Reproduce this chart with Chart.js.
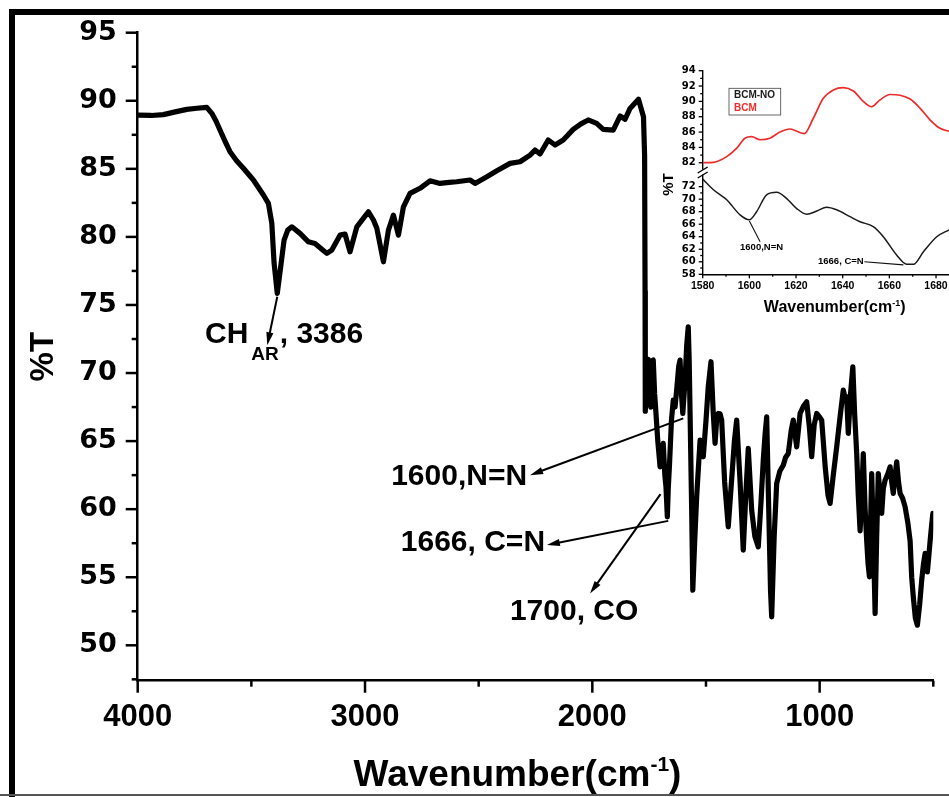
<!DOCTYPE html>
<html>
<head>
<meta charset="utf-8">
<title>FTIR spectrum %T</title>
<script src="https://cdn.jsdelivr.net/npm/chart.js@4.4.0/dist/chart.umd.min.js"></script>
<style>
  html, body { margin: 0; padding: 0; background: #fff; overflow: hidden; }
  body { width: 949px; height: 797px; position: relative; }
  #frame { position: absolute; left: 9px; top: 9px; right: -20px; bottom: 0; border-top: 6px solid #000; border-left: 6px solid #000; }
  #baseLine { position: absolute; left: 0; right: 0; top: 794px; height: 2px; background: #555; }
  #mainWrap { position: absolute; left: 0; top: 0; width: 949px; height: 797px; }
  #insetWrap { position: absolute; left: 640px; top: 50px; width: 360px; height: 270px; }
</style>
</head>
<body>
<div id="frame"></div>
<div id="baseLine"></div>
<div id="mainWrap"><canvas id="mainChart"></canvas></div>
<div id="insetWrap"><canvas id="insetChart"></canvas></div>
<script>
// full spectrum, cm-1 vs %T
const wavenumber = [
  3997, 3940, 3887, 3830, 3784, 3740, 3696, 3674, 3655, 3638, 3615, 3594, 3565, 3535, 3491, 3447, 3425, 3410, 3400, 3386,
  3371, 3356, 3340, 3322, 3286, 3249, 3220, 3190, 3168, 3146, 3110, 3088, 3066, 3036, 3010, 2985, 2963, 2948, 2919, 2897,
  2875, 2853, 2831, 2802, 2758, 2714, 2670, 2630, 2597, 2538, 2516, 2464, 2420, 2362, 2318, 2274, 2252, 2230, 2194, 2164,
  2128, 2084, 2050, 2018, 1981, 1952, 1908, 1878, 1856, 1834, 1797, 1775, 1770, 1768, 1767, 1760, 1754, 1748, 1743, 1737,
  1732, 1726, 1720, 1712, 1702, 1695, 1688, 1681, 1676, 1670, 1666, 1661, 1652, 1644, 1636, 1629, 1620, 1614, 1608, 1602,
  1592, 1585, 1578, 1574, 1570, 1563, 1558, 1550, 1541, 1526, 1512, 1500, 1490, 1478, 1468, 1460, 1452, 1446, 1438, 1431,
  1418, 1402, 1390, 1375, 1365, 1350, 1336, 1325, 1314, 1299, 1285, 1270, 1258, 1248, 1240, 1233, 1224, 1216, 1211, 1200,
  1189, 1175, 1160, 1150, 1138, 1125, 1116, 1101, 1086, 1070, 1057, 1045, 1035, 1024, 1013, 1002, 991, 975, 963, 954,
  940, 925, 910, 896, 885, 881, 874, 864, 854, 846, 837, 830, 822, 815, 808, 800, 793, 787, 781, 776,
  771, 763, 756, 749, 742, 734, 727, 720, 712, 700, 690, 683, 676, 668, 661, 653, 646, 635, 624, 612,
  602, 595, 588, 579, 570, 560, 551, 543, 536, 526, 520, 514, 508, 502
];
const transmittance = [
  88.95, 88.92, 88.98, 89.2, 89.37, 89.45, 89.52, 89.08, 88.5, 87.85, 87.0, 86.26, 85.6, 85.04, 84.18, 83.08, 82.46, 81.0, 78.08, 75.85,
  77.8, 79.77, 80.5, 80.74, 80.26, 79.64, 79.52, 79.1, 78.79, 79.03, 80.13, 80.21, 78.91, 80.74, 81.3, 81.85, 81.24, 80.63, 78.17, 80.5,
  81.6, 80.13, 82.21, 83.2, 83.57, 84.12, 83.93, 84.0, 84.05, 84.18, 83.93, 84.42, 84.86, 85.4, 85.52, 86.01, 86.38, 86.09, 87.12, 86.75,
  87.12, 87.9, 88.3, 88.59, 88.34, 87.9, 87.85, 88.88, 88.64, 89.44, 90.11, 88.83, 86.0, 76.0, 67.2, 70.9, 71.0, 68.0, 67.5, 70.9,
  70.95, 68.5, 67.03, 65.0, 63.11, 64.2, 64.83, 62.5, 61.64, 59.44, 61.5, 63.11, 66.5, 68.01, 67.5, 68.75, 70.5, 70.95, 68.5, 67.03,
  69.46, 72.0, 73.4, 71.0, 67.03, 60.0, 54.05, 57.5, 60.9, 65.07, 63.85, 66.5, 69.0, 70.83, 67.03, 64.83, 66.8, 67.03, 67.0, 66.54,
  62.0, 58.7, 61.5, 65.0, 66.54, 62.0, 56.99, 61.0, 64.46, 59.93, 58.0, 57.23, 60.5, 63.6, 65.5, 66.78, 60.0, 54.0, 52.09, 58.0,
  61.89, 62.8, 63.23, 63.8, 64.09, 65.8, 66.54, 64.58, 67.03, 67.6, 67.89, 66.0, 63.85, 66.2, 67.03, 66.8, 66.54, 63.0, 61.0, 60.42,
  62.5, 64.58, 66.8, 68.75, 68.0, 68.25, 65.56, 68.5, 70.46, 67.0, 64.09, 61.0, 58.41, 61.0, 64.09, 60.0, 57.67, 56.0, 55.03, 59.0,
  62.62, 57.5, 52.34, 58.0, 62.62, 61.0, 59.69, 61.5, 62.13, 62.6, 63.11, 62.0, 61.16, 62.5, 63.48, 62.0, 61.16, 60.8, 60.17, 59.0,
  57.67, 55.0, 53.56, 52.0, 51.48, 53.0, 54.79, 56.0, 56.75, 55.39, 56.5, 57.67, 58.7, 59.69
];

// zoomed 1580-1700 region, two samples
const bcmWavenumber = [1580, 1584.6, 1590.3, 1594.6, 1598.1, 1601, 1604.6, 1608.8, 1613.1, 1617.4, 1620.3, 1623.5, 1627.4, 1631.7,
  1636, 1640.3, 1644.6, 1648.8, 1652.4, 1656, 1660.3, 1664.6, 1668.9, 1673.2, 1677.4, 1681.7, 1685.6];
const bcmT = [82.0, 82.06, 82.8, 83.9, 85.2, 85.4, 85.0, 85.2, 86.0, 86.4, 86.1, 85.8, 87.8, 90.4,
  91.5, 91.8, 91.35, 90.0, 89.3, 90.2, 90.9, 90.8, 90.3, 89.1, 87.6, 86.5, 86.1];
const bcmNoWavenumber = [1580, 1584.6, 1590.3, 1596, 1600, 1603.1, 1607.4, 1611.7, 1616, 1620.3, 1624.6, 1628.9, 1633.1, 1637.4,
  1643.1, 1647.4, 1653.1, 1657.4, 1663.1, 1667.4, 1670.3, 1674.6, 1680.3, 1685.6];
const bcmNoT = [73.2, 71.5, 69.9, 67.5, 66.7, 68.0, 70.7, 71.1, 70.1, 68.5, 67.6, 68.1, 68.7, 68.3,
  67.2, 66.4, 65.6, 64.0, 61.1, 59.6, 59.6, 61.6, 64.0, 65.1];

// band assignments on the full spectrum
const bandWavenumber = [3386, 1600, 1666, 1700];
const bandT = [75.6, 66.67, 59.14, 61.1];
const bandLabel = [[['CH'], ['AR', 'sub'], [', 3386']], [['1600,N=N']], [['1666, C=N']], [['1700, CO']]];
// where each label sits and where its arrow ends (cm-1, %T)
const bandLabelPos = [[3704, 72.79, 'left'], [2287, 62.35, 'right'], [2208, 57.5, 'right'], [2080, 52.5, 'center']];
const bandArrowTip = [[3430, 72.05], [2274, 62.5], [2200, 57.36], [2010, 53.8]];

// band assignments on the zoomed plot (lower curve)
const insetBandWavenumber = [1600, 1666];
const insetBandT = [66.5, 59.5];
const insetBandLabel = ['1600,N=N', '1666, C=N'];
const insetLabelPos = [[1596, 62.26, 'left'], [1649, 60.0, 'right']];
const insetLineEnd = [[1604.6, 63.2], [1649.3, 60.0]];

const ARIAL = '"Liberation Sans", Arial, sans-serif';
const WIDE = '"DejaVu Sans", Verdana, sans-serif';

// ticks drawn by hand so major and minor ones can have different lengths
const tickMarks = {
  id: 'tickMarks',
  afterDraw(chart, args, opts) {
    const ctx = chart.ctx;
    for (const id in opts.axes) {
      const s = chart.scales[id];
      const cfg = opts.axes[id];
      ctx.save();
      ctx.strokeStyle = '#000';
      ctx.lineWidth = cfg.width;
      s.ticks.forEach(t => {
        const r = t.value / cfg.major;
        const len = Math.abs(r - Math.round(r)) < 1e-6 ? cfg.long : cfg.short;
        const p = s.getPixelForValue(t.value);
        ctx.beginPath();
        if (s.isHorizontal()) {
          ctx.moveTo(p, s.top);
          ctx.lineTo(p, s.top + len);
        } else {
          ctx.moveTo(s.right, p);
          ctx.lineTo(s.right - len, p);
        }
        ctx.stroke();
      });
      ctx.restore();
    }
  }
};

function drawSupTitle(ctx, cx, baseline, size, supSize, rise) {
  const a = 'Wavenumber(cm', b = '-1', c = ')';
  ctx.font = 'bold ' + size + 'px ' + ARIAL;
  const wa = ctx.measureText(a).width, wc = ctx.measureText(c).width;
  ctx.font = 'bold ' + supSize + 'px ' + ARIAL;
  const wb = ctx.measureText(b).width;
  let x = cx - (wa + wb + wc) / 2;
  ctx.textAlign = 'left';
  ctx.textBaseline = 'alphabetic';
  ctx.font = 'bold ' + size + 'px ' + ARIAL;
  ctx.fillText(a, x, baseline);
  x += wa;
  ctx.font = 'bold ' + supSize + 'px ' + ARIAL;
  ctx.fillText(b, x, baseline - rise);
  x += wb;
  ctx.font = 'bold ' + size + 'px ' + ARIAL;
  ctx.fillText(c, x, baseline);
}

function drawRotated(ctx, text, x, y, font) {
  ctx.save();
  ctx.translate(x, y);
  ctx.rotate(-Math.PI / 2);
  ctx.font = font;
  ctx.textAlign = 'center';
  ctx.textBaseline = 'middle';
  ctx.fillText(text, 0, 0);
  ctx.restore();
}

function arrow(ctx, x0, y0, x1, y1) {
  const ang = Math.atan2(y1 - y0, x1 - x0);
  const head = 13, half = 3.6;
  ctx.beginPath();
  ctx.moveTo(x0, y0);
  ctx.lineTo(x1 - Math.cos(ang) * head * 0.8, y1 - Math.sin(ang) * head * 0.8);
  ctx.stroke();
  ctx.beginPath();
  ctx.moveTo(x1, y1);
  ctx.lineTo(x1 - Math.cos(ang) * head + Math.sin(ang) * half, y1 - Math.sin(ang) * head - Math.cos(ang) * half);
  ctx.lineTo(x1 - Math.cos(ang) * head - Math.sin(ang) * half, y1 - Math.sin(ang) * head + Math.cos(ang) * half);
  ctx.closePath();
  ctx.fill();
}

const mainDecor = {
  id: 'mainDecor',
  afterDraw(chart) {
    const ctx = chart.ctx, xs = chart.scales.x, ys = chart.scales.y, area = chart.chartArea;
    ctx.save();
    ctx.fillStyle = '#000';
    ctx.strokeStyle = '#000';

    // axis titles
    drawSupTitle(ctx, (area.left + area.right) / 2 - 18, 786, 37, 21, 15);
    drawRotated(ctx, '%T', 44, (area.top + area.bottom) / 2, 'bold 33px ' + ARIAL);

    // band arrows and labels
    ctx.lineWidth = 2;
    bandWavenumber.forEach((w, i) => {
      arrow(ctx, xs.getPixelForValue(w), ys.getPixelForValue(bandT[i]),
        xs.getPixelForValue(bandArrowTip[i][0]), ys.getPixelForValue(bandArrowTip[i][1]));
      const parts = bandLabel[i];
      const [lw, lt, align] = bandLabelPos[i];
      const big = 'bold 30px ' + ARIAL, small = 'bold 19px ' + ARIAL;
      let total = 0;
      parts.forEach(p => { ctx.font = p[1] ? small : big; total += ctx.measureText(p[0]).width + (p[1] ? 4 : 0); });
      let x = xs.getPixelForValue(lw);
      if (align === 'right') x -= total;
      if (align === 'center') x -= total / 2;
      const y = ys.getPixelForValue(lt);
      ctx.textAlign = 'left';
      ctx.textBaseline = 'middle';
      parts.forEach(p => {
        ctx.font = p[1] ? small : big;
        if (p[1]) x += 3;
        ctx.fillText(p[0], x, p[1] ? y + 20 : y);
        x += ctx.measureText(p[0]).width + (p[1] ? 1 : 0);
      });
    });
    ctx.restore();
  }
};

const insetDecor = {
  id: 'insetDecor',
  afterDraw(chart) {
    const ctx = chart.ctx, xs = chart.scales.x, lo = chart.scales.yLow, hi = chart.scales.yHigh, area = chart.chartArea;
    ctx.save();
    ctx.fillStyle = '#000';
    ctx.strokeStyle = '#000';

    // axis break marks where the two y ranges meet
    const bx = area.left, by = hi.bottom;
    ctx.fillStyle = '#fff';
    ctx.fillRect(bx - 3, by - 3, 6, 5);
    ctx.lineWidth = 1.3;
    [-2.5, 2.5].forEach(d => {
      ctx.beginPath();
      ctx.moveTo(bx - 5, by + d + 3);
      ctx.lineTo(bx + 5, by + d - 3);
      ctx.stroke();
    });

    // legend: dataset names in their line colour
    const lx = area.left + 26.3, ly = area.top + 17.6;
    ctx.lineWidth = 0.8;
    ctx.strokeStyle = '#444';
    ctx.strokeRect(lx, ly, 51.7, 26.7);
    ctx.font = 'bold 10px ' + ARIAL;
    ctx.textAlign = 'left';
    ctx.textBaseline = 'middle';
    chart.data.datasets.forEach((ds, i) => {
      ctx.fillStyle = ds.borderColor;
      ctx.fillText(ds.label, lx + 5, ly + 7 + i * 12.5);
    });

    // titles
    ctx.fillStyle = '#000';
    drawSupTitle(ctx, (area.left + area.right) / 2 - 8, area.bottom + 38, 16, 9, 6.5);
    drawRotated(ctx, '%T', area.left - 33.5, hi.bottom + 12, 'bold 15px ' + ARIAL);

    // band notes on the lower curve
    ctx.strokeStyle = '#111';
    ctx.lineWidth = 1.1;
    ctx.font = 'bold 9.5px ' + ARIAL;
    ctx.textBaseline = 'middle';
    insetBandWavenumber.forEach((w, i) => {
      ctx.beginPath();
      ctx.moveTo(xs.getPixelForValue(w), lo.getPixelForValue(insetBandT[i]));
      ctx.lineTo(xs.getPixelForValue(insetLineEnd[i][0]), lo.getPixelForValue(insetLineEnd[i][1]));
      ctx.stroke();
      const [lw, lt, align] = insetLabelPos[i];
      ctx.textAlign = align;
      ctx.fillText(insetBandLabel[i], xs.getPixelForValue(lw), lo.getPixelForValue(lt));
    });
    ctx.restore();
  }
};

document.addEventListener('DOMContentLoaded', function() {
  const hidden = 'rgba(0,0,0,0)';

  new Chart(document.getElementById('mainChart'), {
    type: 'line',
    data: {
      datasets: [{
        data: wavenumber.map((w, i) => ({ x: w, y: transmittance[i] })),
        borderColor: '#000',
        borderWidth: 5.2,
        borderJoinStyle: 'round',
        borderCapStyle: 'round',
        pointRadius: 0,
        tension: 0
      }]
    },
    options: {
      responsive: true,
      maintainAspectRatio: false,
      animation: false,
      layout: { padding: { top: 32.7, right: 15.7, left: 0, bottom: 0 } },
      plugins: {
        legend: { display: false },
        tooltip: { enabled: false },
        tickMarks: {
          axes: {
            x: { major: 1000, long: 12, short: 6, width: 2.5 },
            y: { major: 5, long: 12, short: 6, width: 2.5 }
          }
        }
      },
      scales: {
        x: {
          type: 'linear',
          reverse: true,
          min: 500,
          max: 4000,
          afterFit: s => { s.height = 116.3; },
          ticks: {
            stepSize: 500,
            autoSkip: false,
            maxRotation: 0,
            padding: 6,
            color: '#000',
            font: { family: ARIAL, size: 31, weight: 'bold' },
            callback: v => v % 1000 === 0 ? String(v) : ''
          },
          grid: { drawOnChartArea: false, tickLength: 12, tickColor: hidden },
          border: { color: '#000', width: 2.5 }
        },
        y: {
          type: 'linear',
          min: 47.4,
          max: 95,
          afterFit: s => { s.width = 137.7; },
          ticks: {
            stepSize: 2.5,
            includeBounds: false,
            autoSkip: false,
            padding: 9,
            color: '#000',
            font: { family: WIDE, size: 27, weight: 'bold' },
            callback: v => v % 5 === 0 ? String(v) : ''
          },
          grid: { drawOnChartArea: false, tickLength: 12, tickColor: hidden },
          border: { color: '#000', width: 2.5 }
        }
      }
    },
    plugins: [tickMarks, mainDecor]
  });

  new Chart(document.getElementById('insetChart'), {
    type: 'line',
    data: {
      datasets: [{
        label: 'BCM-NO',
        data: bcmNoWavenumber.map((w, i) => ({ x: w, y: bcmNoT[i] })),
        yAxisID: 'yLow',
        borderColor: '#1a1a1a',
        borderWidth: 1.5,
        pointRadius: 0,
        cubicInterpolationMode: 'monotone'
      }, {
        label: 'BCM',
        data: bcmWavenumber.map((w, i) => ({ x: w, y: bcmT[i] })),
        yAxisID: 'yHigh',
        borderColor: '#ee2b2b',
        borderWidth: 1.7,
        pointRadius: 0,
        cubicInterpolationMode: 'monotone'
      }]
    },
    options: {
      responsive: true,
      maintainAspectRatio: false,
      animation: false,
      layout: { padding: { top: 20.7, right: 17.3, left: 0, bottom: 0 } },
      plugins: {
        legend: { display: false },
        tooltip: { enabled: false },
        tickMarks: {
          axes: {
            x: { major: 20, long: 4, short: 2.5, width: 1.3 },
            yLow: { major: 2, long: 4, short: 2.5, width: 1.3 },
            yHigh: { major: 2, long: 4, short: 2.5, width: 1.3 }
          }
        }
      },
      scales: {
        x: {
          type: 'linear',
          min: 1580,
          max: 1700,
          afterFit: s => { s.height = 45.7; },
          ticks: {
            stepSize: 10,
            autoSkip: false,
            maxRotation: 0,
            padding: 2,
            color: '#000',
            font: { family: ARIAL, size: 10.5, weight: 'bold' },
            callback: v => v % 20 === 0 ? String(v) : ''
          },
          grid: { drawOnChartArea: false, tickLength: 4, tickColor: hidden },
          border: { color: '#000', width: 1.4 }
        },
        yLow: {
          type: 'linear',
          position: 'left',
          stack: 'insetY',
          stackWeight: 1,
          min: 58,
          max: 74.26,
          afterFit: s => { s.width = 62.7; },
          afterBuildTicks: s => { s.ticks = s.ticks.filter(t => t.value <= 72); },
          ticks: {
            stepSize: 1,
            autoSkip: false,
            padding: 3,
            color: '#000',
            font: { family: WIDE, size: 10, weight: 'bold' },
            callback: v => v % 2 === 0 ? String(v) : ''
          },
          grid: { drawOnChartArea: false, tickLength: 4, tickColor: hidden },
          border: { color: '#000', width: 1.4 }
        },
        yHigh: {
          type: 'linear',
          position: 'left',
          stack: 'insetY',
          stackWeight: 1,
          min: 80.73,
          max: 94,
          afterFit: s => { s.width = 62.7; },
          afterBuildTicks: s => { s.ticks = s.ticks.filter(t => t.value >= 82); },
          ticks: {
            stepSize: 1,
            autoSkip: false,
            padding: 3,
            color: '#000',
            font: { family: WIDE, size: 10, weight: 'bold' },
            callback: v => v % 2 === 0 ? String(v) : ''
          },
          grid: { drawOnChartArea: false, tickLength: 4, tickColor: hidden },
          border: { color: '#000', width: 1.4 }
        }
      }
    },
    plugins: [tickMarks, insetDecor]
  });
});
</script>
</body>
</html>
